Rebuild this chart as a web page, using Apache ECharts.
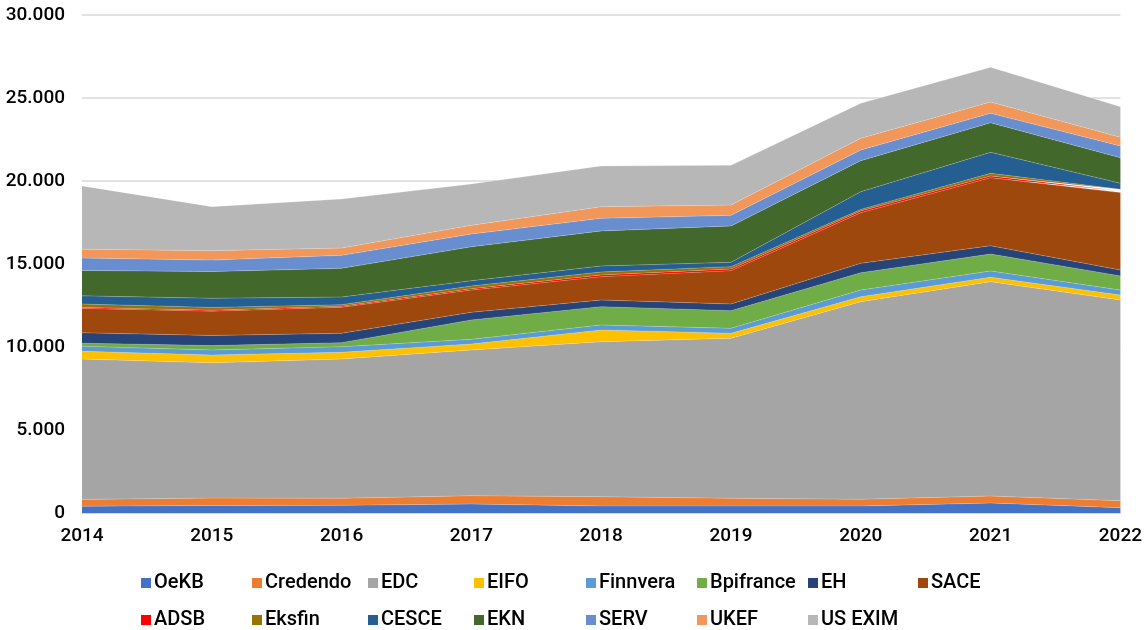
<!DOCTYPE html>
<html>
<head>
    <meta charset="UTF-8">
    <title>ECA volumes</title>
    <script src="https://cdn.jsdelivr.net/npm/echarts@6/dist/echarts.min.js"></script>
    <style>
        html, body { margin: 0; padding: 0; background: #fff; }
        #chart { width: 1145px; height: 630px; }
    </style>
</head>
<body>
    <div id="chart"></div>
    <script>
        // data
        var years = ['2014', '2015', '2016', '2017', '2018', '2019', '2020', '2021', '2022'];
        var yTicks = [0, 5000, 10000, 15000, 20000, 25000, 30000];

        var OeKB     = [410, 450, 460, 540, 420, 420, 420, 600, 320];
        var Credendo = [410, 450, 425, 500, 560, 465, 405, 420, 420];
        var EDC      = [8450, 8145, 8390, 8780, 9340, 9635, 11905, 12915, 12090];
        var EIFO     = [470, 470, 405, 360, 700, 305, 300, 265, 300];
        var Finnvera = [305, 305, 340, 280, 310, 300, 400, 380, 300];
        var Bpifrance= [185, 265, 240, 1170, 1100, 1065, 1045, 1020, 850];
        var EH       = [630, 610, 565, 460, 400, 400, 565, 500, 360];
        var SACE     = [1465, 1465, 1565, 1340, 1405, 2010, 3050, 4100, 4660];
        var ADSB     = [60, 60, 60, 80, 105, 100, 100, 100, 100];
        var Eksfin   = [205, 165, 100, 160, 180, 140, 100, 160, 100];
        var CESCE    = [490, 550, 460, 325, 360, 260, 1065, 1270, 360];
        var EKN      = [1530, 1610, 1730, 2045, 2110, 2190, 1870, 1780, 1540];
        var SERV     = [755, 690, 780, 770, 760, 640, 645, 570, 710];
        var UKEF     = [530, 570, 440, 520, 700, 620, 700, 680, 520];
        var USEXIM   = [3810, 2650, 2955, 2490, 2450, 2395, 2110, 2090, 1850];

        var names = ['OeKB', 'Credendo', 'EDC', 'EIFO', 'Finnvera', 'Bpifrance', 'EH', 'SACE',
                     'ADSB', 'Eksfin', 'CESCE', 'EKN', 'SERV', 'UKEF', 'US EXIM'];
        var values = [OeKB, Credendo, EDC, EIFO, Finnvera, Bpifrance, EH, SACE,
                      ADSB, Eksfin, CESCE, EKN, SERV, UKEF, USEXIM];
        var colors = ['#4472C4', '#ED7D31', '#A5A5A5', '#FFC000', '#5B9BD5', '#70AD47', '#264478', '#9E480E',
                      '#FF0000', '#997300', '#255E91', '#43682B', '#698ED0', '#F1975A', '#B7B7B7'];

        var font = "Roboto, 'Noto Sans', sans-serif";
        // legend column positions (excel-like table layout, 8 per row)
        var legendCols = [141, 252, 368, 474, 586, 697, 808, 918];

        var series = names.map(function (n, i) {
            return {
                name: n,
                type: 'line',
                stack: 'total',
                data: values[i],
                showSymbol: false,
                lineStyle: { width: 0.4, color: 'rgba(255,255,255,0.5)' },
                areaStyle: { color: colors[i], opacity: 1 },
                itemStyle: { color: colors[i] },
                emphasis: { disabled: true }
            };
        });

        var legends = names.map(function (n, i) {
            return {
                data: [n],
                left: legendCols[i % 8],
                top: i < 8 ? 573 : 610,
                padding: 0,
                icon: 'rect',
                itemWidth: 10,
                itemHeight: 10,
                selectedMode: false,
                textStyle: { fontFamily: font, fontSize: 20, fontWeight: 500, color: '#000', padding: [0, 0, 0, -2] }
            };
        });

        var option = {
            animation: false,
            color: colors,
            grid: { left: 82, right: 24, top: 15, bottom: 117 },
            legend: legends,
            xAxis: {
                type: 'category',
                data: years,
                boundaryGap: false,
                axisLine: { lineStyle: { color: '#D9D9D9', width: 1 } },
                axisTick: { show: false },
                axisLabel: { color: '#000', fontSize: 19, fontWeight: 500, fontFamily: font, margin: 14 }
            },
            yAxis: {
                type: 'value',
                min: yTicks[0],
                max: yTicks[yTicks.length - 1],
                interval: 5000,
                axisLine: { show: false },
                axisTick: { show: false },
                splitLine: { lineStyle: { color: '#D9D9D9', width: 1.5 } },
                axisLabel: {
                    color: '#000', fontSize: 19, fontWeight: 500, fontFamily: font, margin: 17,
                    formatter: function (v) {
                        return String(v).replace(/\B(?=(\d{3})+(?!\d))/g, '.');
                    }
                }
            },
            series: series
        };

        var myChart = echarts.init(document.getElementById('chart'));
        myChart.setOption(option);
    </script>
</body>
</html>
